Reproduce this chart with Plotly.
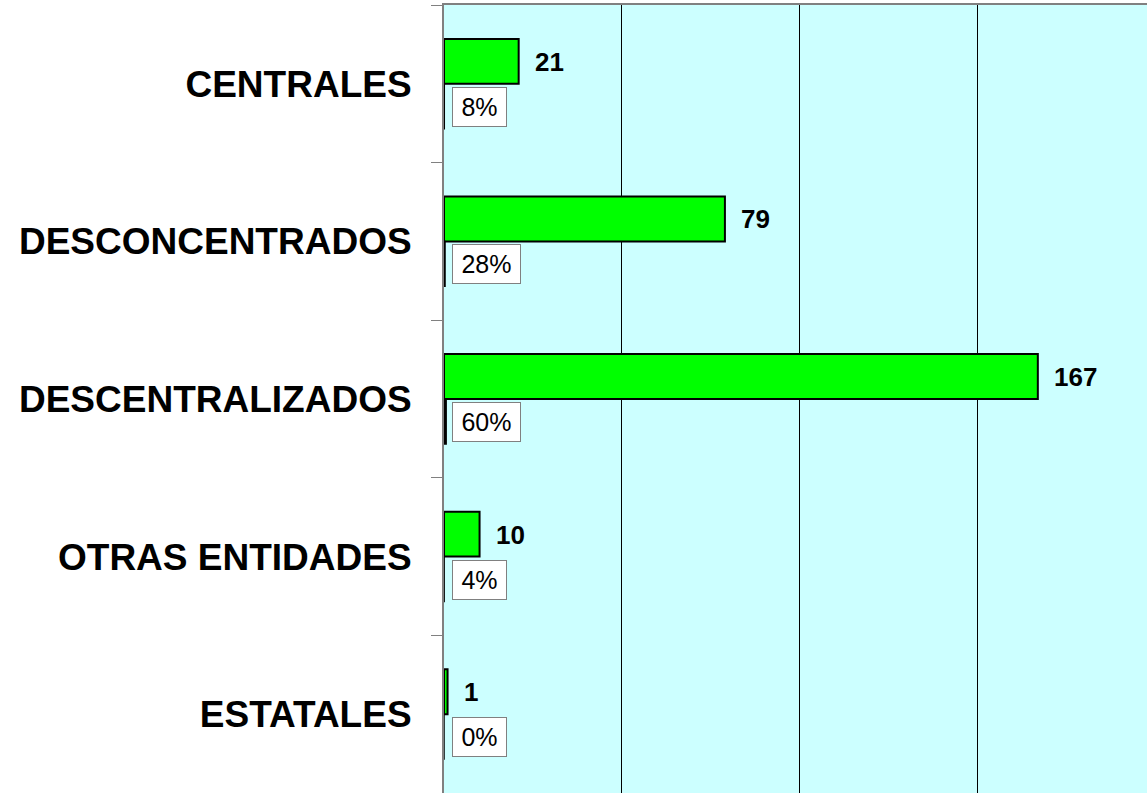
import plotly.graph_objects as go

categories = ["CENTRALES", "DESCONCENTRADOS", "DESCENTRALIZADOS", "OTRAS ENTIDADES", "ESTATALES"]
counts = [21, 79, 167, 10, 1]
shares = [0.0755, 0.2842, 0.6007, 0.0360, 0.0036]
share_labels = ["8%", "28%", "60%", "4%", "0%"]

FONT = "Liberation Sans, Arial, sans-serif"

fig = go.Figure()
fig.add_trace(go.Bar(
    y=categories, x=counts, orientation="h", name="Cantidad",
    marker=dict(color="#00FF00", line=dict(color="black", width=2)),
    hoverinfo="x+y",
))
fig.add_trace(go.Bar(
    y=categories, x=shares, orientation="h", name="Porcentaje",
    marker=dict(color="black", line=dict(color="black", width=1.5)),
    hoverinfo="y",
))

annotations = []
for cat, val in zip(categories, counts):
    annotations.append(dict(
        x=val, y=cat, xref="x", yref="y", text=str(val), showarrow=False,
        xanchor="left", yanchor="middle", xshift=14, yshift=22,
        font=dict(family=FONT, size=26, color="black", weight="bold"),
    ))
for cat, lab in zip(categories, share_labels):
    ndig = len(lab) - 1
    w = round(25 * (0.889 + 0.556 * ndig)) + 7
    annotations.append(dict(
        x=0, y=cat, xref="x", yref="y", text=lab, showarrow=False,
        xanchor="left", yanchor="middle", xshift=8, yshift=-23,
        font=dict(family=FONT, size=25, color="black"),
        bgcolor="white", bordercolor="#808080", borderwidth=1, borderpad=5,
        width=w, align="center",
    ))

fig.update_layout(
    width=1147, height=793,
    margin=dict(l=444, r=0, t=5, b=0),
    paper_bgcolor="white", plot_bgcolor="#CCFFFF",
    barmode="group", bargap=0.43, bargroupgap=0,
    showlegend=False,
    annotations=annotations,
    font=dict(family=FONT),
)
fig.update_xaxes(
    range=[0, 197.7], dtick=50, tick0=0, side="top",
    showgrid=True, gridcolor="black", gridwidth=1,
    showticklabels=False, ticks="", zeroline=False,
    showline=True, linecolor="#808080", linewidth=2,
)
fig.update_yaxes(
    range=[4.5, -0.5], type="category",
    showgrid=False, zeroline=False,
    showline=True, linecolor="#808080", linewidth=2,
    ticks="outside", tickson="boundaries", ticklen=11, tickcolor="#808080", tickwidth=1,
    ticklabelstandoff=23,
    tickfont=dict(family=FONT, size=37, color="black", weight="bold"),
)

fig.write_html(
    "out.html",
    config={"displayModeBar": False},
    post_script="document.body.style.margin='0';document.body.style.overflow='hidden';",
)
